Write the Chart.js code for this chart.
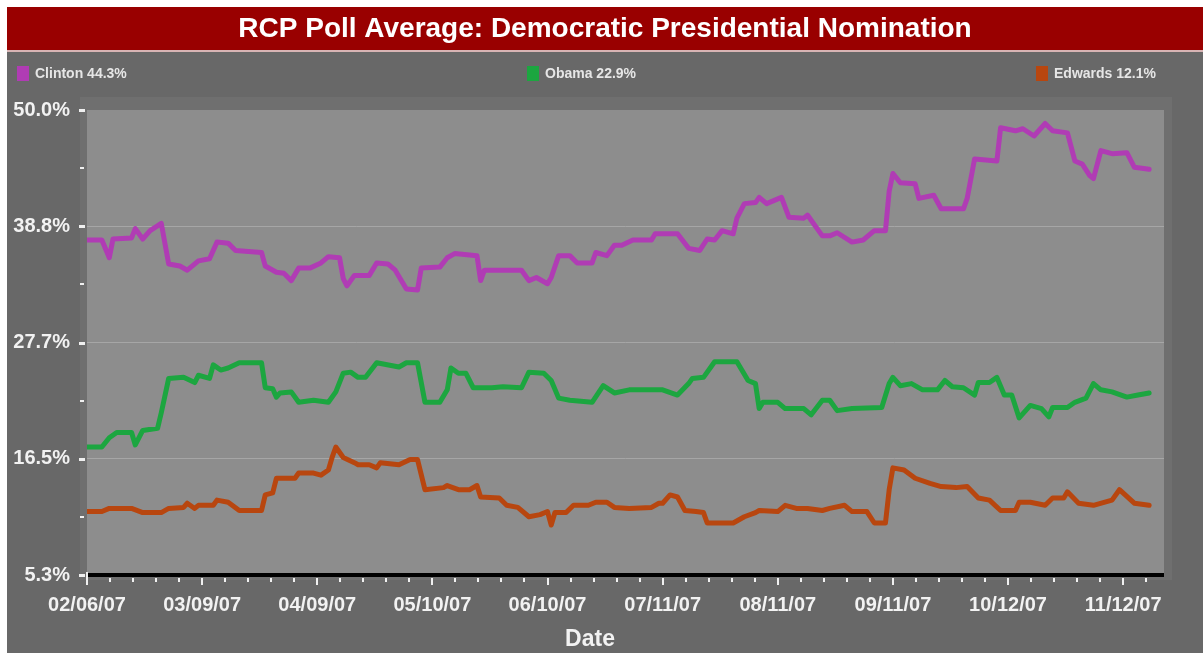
<!DOCTYPE html>
<html>
<head>
<meta charset="utf-8">
<script src="https://cdn.jsdelivr.net/npm/chart.js"></script>
<style>
  html, body { margin: 0; padding: 0; background: #fff; }
  #wrap { width: 1203px; height: 653px; }
</style>
</head>
<body>
<div id="wrap"><canvas id="pollChart" width="1203" height="653"></canvas></div>
<script>
// days counted from 02/06/07
const seriesNames = ['Clinton', 'Obama', 'Edwards'];
const seriesLatest = ['44.3%', '22.9%', '12.1%'];
const seriesColors = ['#b03cb4', '#1ca640', '#b8460f'];

const clintonDays = [0,4,6,7,12,13,15,17,20,22,25,27,30,33,35,38,40,47,48,51,53,55,57,60,63,65,68,69,70,72,76,78,81,83,86,89,90,95,97,99,105,106,107,117,119,121,124,125,127,130,132,136,137,140,142,144,147,152,153,159,162,165,167,169,171,174,175,177,180,181,183,187,189,193,194,198,200,202,206,209,212,215,216,217,219,223,224,228,230,236,237,239,245,246,250,252,255,258,260,264,266,268,270,271,273,276,280,282,286];
const clintonValues = [37.5,37.5,35.8,37.6,37.7,38.6,37.6,38.4,39.1,35.2,35.0,34.6,35.5,35.7,37.3,37.2,36.5,36.3,35.0,34.4,34.3,33.6,34.8,34.8,35.3,35.9,35.8,33.8,33.1,34.1,34.1,35.3,35.2,34.6,32.8,32.7,34.8,34.9,35.8,36.2,36.0,33.6,34.6,34.6,33.6,33.9,33.3,33.9,36.0,36.0,35.3,35.3,36.3,36.0,37.0,37.0,37.5,37.5,38.1,38.1,36.7,36.5,37.6,37.5,38.4,38.1,39.6,41.0,41.1,41.6,41.0,41.6,39.7,39.6,39.9,37.9,37.9,38.2,37.3,37.5,38.4,38.4,42.2,43.9,43.0,42.9,41.5,41.8,40.5,40.5,41.5,45.3,45.1,48.3,48.0,48.2,47.5,48.7,48.0,47.8,45.1,44.8,43.7,43.4,46.1,45.8,45.9,44.5,44.3];

const obamaDays = [0,4,6,8,12,13,15,19,20,22,26,29,30,33,34,36,38,41,47,48,50,51,52,55,57,61,65,67,69,71,73,75,78,84,86,89,91,95,97,98,100,102,104,109,112,117,119,123,125,127,130,136,139,142,146,155,159,162,163,166,169,175,178,180,181,182,186,188,193,195,198,200,202,206,214,216,217,219,222,225,229,231,233,236,239,240,243,245,247,249,251,254,257,259,260,264,266,269,271,273,276,280,283,286];
const obamaValues = [17.6,17.6,18.5,19.0,19.0,17.8,19.2,19.4,20.9,24.2,24.3,23.8,24.5,24.2,25.5,25.0,25.2,25.7,25.7,23.3,23.2,22.4,22.8,22.9,21.9,22.1,21.9,22.9,24.7,24.8,24.3,24.3,25.7,25.3,25.7,25.7,21.9,21.9,23.1,25.2,24.7,24.7,23.3,23.3,23.4,23.3,24.8,24.7,24.0,22.3,22.1,21.9,23.5,22.8,23.1,23.1,22.6,23.7,24.2,24.3,25.8,25.8,24.0,23.7,21.3,21.9,21.9,21.3,21.3,20.7,22.1,22.1,21.1,21.3,21.4,23.7,24.3,23.5,23.7,23.1,23.1,24.0,23.4,23.3,22.6,23.8,23.8,24.3,22.6,22.6,20.4,21.6,21.3,20.5,21.4,21.4,21.9,22.3,23.7,23.1,22.9,22.4,22.6,22.8];

const edwardsDays = [0,4,6,12,15,20,22,26,27,29,30,34,35,38,41,47,48,50,51,56,57,61,63,65,66,67,69,72,73,76,78,79,84,87,89,91,96,97,100,103,105,106,111,113,116,119,122,124,125,126,129,131,135,137,140,142,146,152,154,155,157,159,161,164,166,167,174,177,180,181,186,188,191,194,198,200,204,206,210,212,215,216,217,220,223,227,230,234,237,240,243,246,250,251,254,258,260,263,264,267,271,276,278,282,286];
const edwardsValues = [11.4,11.4,11.7,11.7,11.3,11.3,11.7,11.8,12.2,11.7,12.0,12.0,12.5,12.3,11.5,11.5,13.0,13.2,14.6,14.6,15.1,15.1,14.9,15.4,16.6,17.6,16.6,16.1,15.9,15.9,15.6,16.1,15.9,16.4,16.4,13.5,13.7,13.9,13.5,13.5,13.9,12.8,12.7,12.0,11.8,10.9,11.1,11.4,10.1,11.3,11.3,12.0,12.0,12.3,12.3,11.8,11.7,11.8,12.2,12.2,13.0,12.8,11.5,11.4,11.3,10.3,10.3,10.9,11.3,11.5,11.4,12.0,11.7,11.7,11.5,11.7,12.0,11.4,11.4,10.3,10.3,13.5,15.6,15.4,14.6,14.1,13.8,13.7,13.8,12.7,12.5,11.5,11.5,12.3,12.3,12.0,12.7,12.7,13.3,12.2,12.0,12.5,13.5,12.2,12.0];

const xTickDays = [0,31,62,93,124,155,186,217,248,279];
const xTickLabels = ['02/06/07','03/09/07','04/09/07','05/10/07','06/10/07','07/11/07','08/11/07','09/11/07','10/12/07','11/12/07'];
const yTickValues = [5.3,16.475,27.65,38.825,50.0];
const yTickLabels = ['5.3%','16.5%','27.7%','38.8%','50.0%'];

const FONT = '"Liberation Sans", Arial, sans-serif';

function points(days, values) {
    return days.map((d, i) => ({ x: d, y: values[i] }));
}

// backgrounds, title bar, legend row, axis decorations
const framePlugin = {
    id: 'frame',
    beforeDraw(chart) {
        const ctx = chart.ctx;
        const a = chart.chartArea;
        ctx.save();
        ctx.fillStyle = '#ffffff';
        ctx.fillRect(0, 0, chart.width, chart.height);
        ctx.fillStyle = '#990000';
        ctx.fillRect(7, 7, chart.width - 7, 43);
        ctx.fillStyle = '#d8b4b4';
        ctx.fillRect(7, 50, chart.width - 7, 2);
        ctx.fillStyle = '#686868';
        ctx.fillRect(7, 52, chart.width - 7, chart.height - 52);
        ctx.fillStyle = '#6f6f6f';
        ctx.fillRect(a.left - 7, a.top - 13, a.right - a.left + 15, a.bottom - a.top + 18);
        ctx.fillStyle = '#8d8d8d';
        ctx.fillRect(a.left, a.top, a.right - a.left, a.bottom - a.top);

        ctx.fillStyle = '#ffffff';
        ctx.font = 'bold 28px ' + FONT;
        ctx.textAlign = 'center';
        ctx.textBaseline = 'middle';
        ctx.fillText('RCP Poll Average: Democratic Presidential Nomination', 605, 29);

        const legendX = [17, 527, 1036];
        ctx.font = 'bold 14px ' + FONT;
        ctx.textAlign = 'left';
        seriesNames.forEach((name, i) => {
            ctx.fillStyle = seriesColors[i];
            ctx.fillRect(legendX[i], 66, 12, 15);
            ctx.fillStyle = '#e6e6e6';
            ctx.fillText(name + ' ' + seriesLatest[i], legendX[i] + 18, 74);
        });
        ctx.restore();
    },
    afterDraw(chart) {
        const ctx = chart.ctx;
        const a = chart.chartArea;
        const xs = chart.scales.x;
        const ys = chart.scales.y;
        ctx.save();
        // black x axis line
        ctx.fillStyle = '#000000';
        ctx.fillRect(a.left, a.bottom - 2, a.right - a.left, 4);
        ctx.fillStyle = '#f0f0f0';
        // x tick marks, major and minor
        for (let d = 0; d <= xs.max; d += 31 / 5) {
            const px = Math.round(xs.getPixelForValue(d));
            const major = xTickDays.some(t => Math.abs(t - d) < 0.01);
            ctx.fillRect(px - 1, a.bottom + 3, 2, major ? 7 : 4);
        }
        ctx.fillRect(a.left - 1, a.bottom - 3, 2, 12);
        // y tick marks
        for (let i = 0; i < yTickValues.length; i++) {
            const py = Math.round(ys.getPixelForValue(yTickValues[i]));
            ctx.fillRect(a.left - 8, py - 1, 6, 3);
            if (i < yTickValues.length - 1) {
                const my = Math.round(ys.getPixelForValue((yTickValues[i] + yTickValues[i + 1]) / 2));
                ctx.fillRect(a.left - 7, my - 1, 4, 2);
            }
        }
        // axis title
        ctx.fillStyle = '#f2f2f2';
        ctx.font = 'bold 23px ' + FONT;
        ctx.textAlign = 'center';
        ctx.textBaseline = 'middle';
        ctx.fillText('Date', 590, 640);
        ctx.restore();
    }
};

const chart = new Chart(document.getElementById('pollChart'), {
    type: 'line',
    data: {
        datasets: [
            { label: seriesNames[0], data: points(clintonDays, clintonValues), borderColor: seriesColors[0] },
            { label: seriesNames[1], data: points(obamaDays, obamaValues), borderColor: seriesColors[1] },
            { label: seriesNames[2], data: points(edwardsDays, edwardsValues), borderColor: seriesColors[2] }
        ]
    },
    options: {
        responsive: false,
        animation: false,
        devicePixelRatio: 1,
        layout: { padding: { top: 110, right: 39, left: 0, bottom: 0 } },
        elements: {
            line: { borderWidth: 5, tension: 0, borderJoinStyle: 'round', borderCapStyle: 'round', fill: false },
            point: { radius: 0, hoverRadius: 0 }
        },
        plugins: {
            legend: { display: false },
            title: { display: false },
            tooltip: { enabled: false }
        },
        scales: {
            x: {
                type: 'linear',
                min: 0,
                max: 290,
                afterFit(scale) { scale.height = 78; },
                afterBuildTicks(scale) { scale.ticks = xTickDays.map(v => ({ value: v })); },
                grid: { display: false, drawTicks: false },
                border: { display: false },
                ticks: {
                    autoSkip: false,
                    maxRotation: 0,
                    padding: 18,
                    color: '#f2f2f2',
                    font: { family: FONT, size: 20, weight: 'bold' },
                    callback: (v) => xTickLabels[xTickDays.indexOf(v)]
                }
            },
            y: {
                min: 5.3,
                max: 50.0,
                afterFit(scale) { scale.width = 87; },
                afterBuildTicks(scale) { scale.ticks = yTickValues.map(v => ({ value: v })); },
                grid: {
                    drawTicks: false,
                    lineWidth: 1,
                    color: (c) => (c.tick && (c.tick.value === 5.3 || c.tick.value === 50.0)) ? 'rgba(0,0,0,0)' : '#a6a6a6'
                },
                border: { display: false },
                ticks: {
                    padding: 17,
                    color: '#f2f2f2',
                    font: { family: FONT, size: 20, weight: 'bold' },
                    callback: (v) => yTickLabels[yTickValues.indexOf(v)]
                }
            }
        }
    },
    plugins: [framePlugin]
});
</script>
</body>
</html>
